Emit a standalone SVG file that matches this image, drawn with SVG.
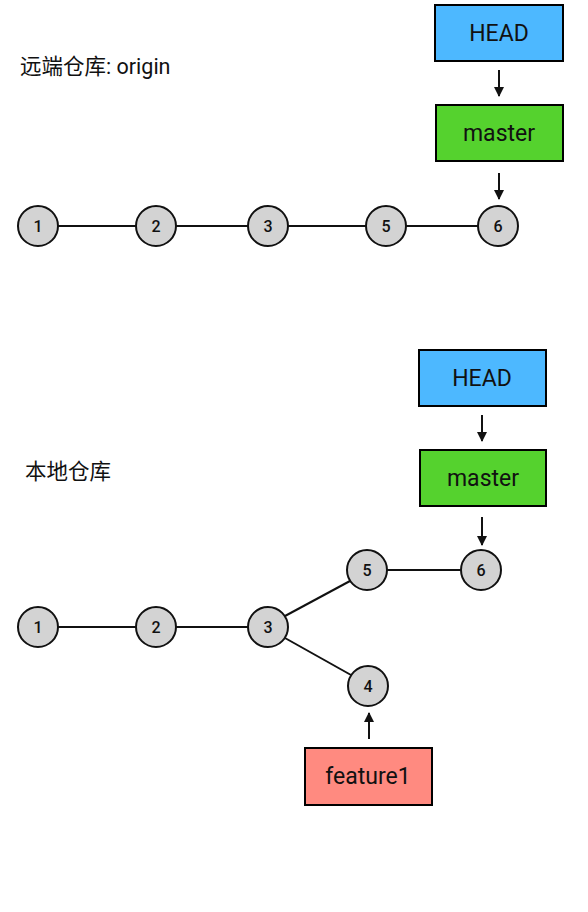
<svg xmlns="http://www.w3.org/2000/svg" width="588" height="912" viewBox="0 0 588 912">
<defs>
<marker id="ah" viewBox="0 0 10 10" refX="9" refY="5" markerWidth="10" markerHeight="10" markerUnits="userSpaceOnUse" orient="auto">
<path d="M0,0 L10,5 L0,10 z" fill="#111"/>
</marker>
</defs>
<style>
.box{stroke:#000;stroke-width:2}
.head{fill:#4db8ff}
.master{fill:#55d22e}
.feat{fill:#ff8a80}
.lbl{font-family:Roboto,"Liberation Sans",sans-serif;font-size:23px;fill:#111;text-anchor:middle}
.c{fill:#d3d3d3;stroke:#111;stroke-width:2}
.n{font-family:Roboto,"Liberation Sans",sans-serif;font-size:16px;font-weight:500;fill:#111;text-anchor:middle}
.t{font-family:Roboto,"Noto Sans CJK SC",sans-serif;font-size:21.5px;fill:#111}
.e{stroke:#111;stroke-width:2;fill:none}
.a{stroke:#111;stroke-width:2;fill:none;marker-end:url(#ah)}
</style>
<rect width="588" height="912" fill="#fff"/>
<text class="t" x="20" y="74">远端仓库: origin</text>
<text class="t" x="25" y="479">本地仓库</text>
<g id="connectors">
<line class="e" x1="58" y1="226" x2="136" y2="226"/>
<line class="e" x1="176" y1="226" x2="248" y2="226"/>
<line class="e" x1="288" y1="226" x2="366" y2="226"/>
<line class="e" x1="406" y1="226" x2="478" y2="226"/>
<line class="a" x1="499" y1="70" x2="499" y2="96"/>
<line class="a" x1="499" y1="173" x2="499" y2="199"/>
<line class="e" x1="58" y1="627" x2="136" y2="627"/>
<line class="e" x1="176" y1="627" x2="248" y2="627"/>
<line class="e" x1="285" y1="616" x2="350" y2="581"/>
<line class="e" x1="285" y1="638" x2="351" y2="675"/>
<line class="e" x1="387" y1="570" x2="461" y2="570"/>
<line class="a" x1="482" y1="415" x2="482" y2="441"/>
<line class="a" x1="482" y1="517" x2="482" y2="545"/>
<line class="a" x1="369" y1="739" x2="369" y2="713"/>
</g>
<g id="r-head"><rect class="box head" x="435" y="5" width="128" height="56"/><text class="lbl" x="499" y="41">HEAD</text></g>
<g id="r-master"><rect class="box master" x="436" y="105" width="127" height="56"/><text class="lbl" x="499" y="141">master</text></g>
<g id="r1"><circle class="c" cx="38" cy="226" r="20"/><text class="n" x="38" y="232">1</text></g>
<g id="r2"><circle class="c" cx="156" cy="226" r="20"/><text class="n" x="156" y="232">2</text></g>
<g id="r3"><circle class="c" cx="268" cy="226" r="20"/><text class="n" x="268" y="232">3</text></g>
<g id="r5"><circle class="c" cx="386" cy="226" r="20"/><text class="n" x="386" y="232">5</text></g>
<g id="r6"><circle class="c" cx="498" cy="226" r="20"/><text class="n" x="498" y="232">6</text></g>
<g id="l-head"><rect class="box head" x="419" y="350" width="127" height="56"/><text class="lbl" x="482" y="386">HEAD</text></g>
<g id="l-master"><rect class="box master" x="420" y="450" width="126" height="56"/><text class="lbl" x="483" y="486">master</text></g>
<g id="l-feature1"><rect class="box feat" x="305" y="748" width="127" height="57"/><text class="lbl" x="368" y="784">feature1</text></g>
<g id="l1"><circle class="c" cx="38" cy="627" r="20"/><text class="n" x="38" y="633">1</text></g>
<g id="l2"><circle class="c" cx="156" cy="627" r="20"/><text class="n" x="156" y="633">2</text></g>
<g id="l3"><circle class="c" cx="268" cy="627" r="20"/><text class="n" x="268" y="633">3</text></g>
<g id="l5"><circle class="c" cx="367" cy="570" r="20"/><text class="n" x="367" y="576">5</text></g>
<g id="l6"><circle class="c" cx="481" cy="570" r="20"/><text class="n" x="481" y="576">6</text></g>
<g id="l4"><circle class="c" cx="368" cy="686" r="20"/><text class="n" x="368" y="692">4</text></g>
</svg>
